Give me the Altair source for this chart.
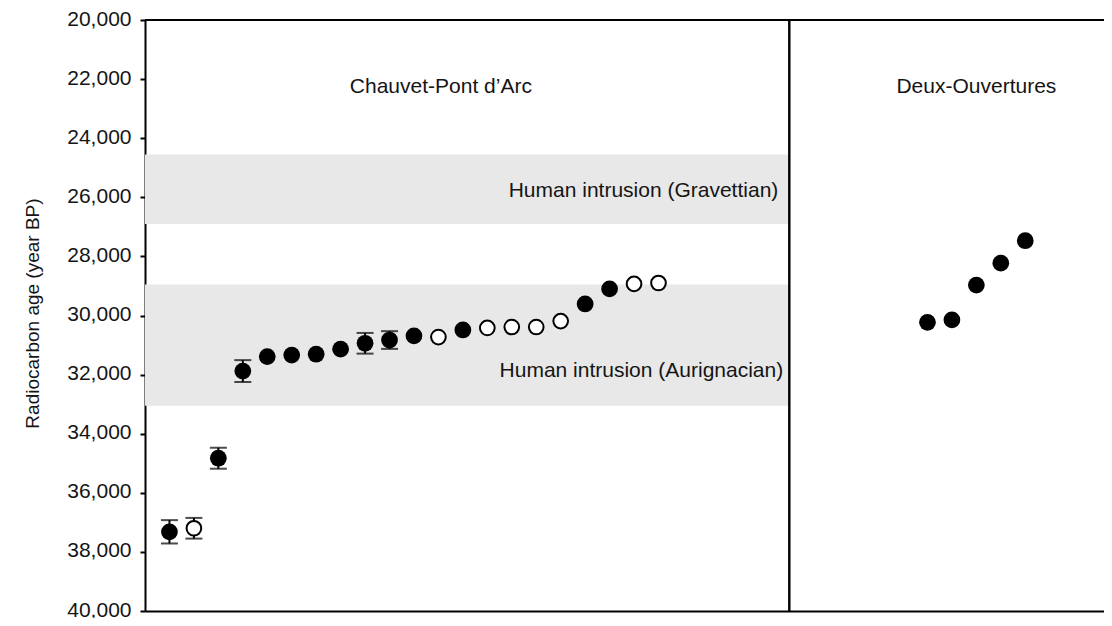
import altair as alt
import pandas as pd

# ---- data ----
chauvet_idx = list(range(1, 22))
chauvet_age = [37320, 37200, 34830, 31880, 31390, 31340, 31310, 31140, 30940, 30830,
               30690, 30730, 30490, 30420, 30390, 30390, 30190, 29610, 29100, 28930, 28900]
chauvet_open = [False, True, False, False, False, False, False, False, False, False,
                False, True, False, True, True, True, True, False, False, True, True]
chauvet_err = [395, 350, 355, 370, 0, 0, 0, 0, 350, 300,
               0, 0, 0, 0, 0, 0, 0, 0, 0, 0, 0]

deux_idx = [32, 33, 34, 35, 36]
deux_age = [30230, 30150, 28970, 28230, 27470]

site_names = ["Chauvet-Pont d’Arc", "Deux-Ouvertures"]
site_label_x = [12.1, 34.0]
site_label_age = [22270, 22270]

band_names = ["Human intrusion (Gravettian)", "Human intrusion (Aurignacian)"]
band_start = [24550, 28950]
band_end = [26900, 33050]
band_label_x = [25.9, 26.1]
band_label_age = [25800, 31880]

divider = 26.35
x_max = 39.22
y_ticks = list(range(20000, 40001, 2000))

# ---- tables ----
pts = pd.DataFrame({
    "idx": chauvet_idx + deux_idx,
    "age": chauvet_age + deux_age,
    "open": chauvet_open + [False] * len(deux_idx),
    "err": chauvet_err + [0] * len(deux_idx),
})
pts["lo"] = pts["age"] - pts["err"]
pts["hi"] = pts["age"] + pts["err"]
errs = pts[pts["err"] > 0]

bands = pd.DataFrame({"name": band_names, "start": band_start, "end": band_end,
                      "lx": band_label_x, "ly": band_label_age,
                      "x0": [0, 0], "x1": [divider, divider]})
sites = pd.DataFrame({"name": site_names, "x": site_label_x, "y": site_label_age})

FONT = "Liberation Sans"
TXT = "#151515"
xs = alt.Scale(domain=[0, x_max], nice=False, zero=False)
ys = alt.Scale(domain=[20000, 40000], reverse=True, nice=False, zero=False)

y_axis = alt.Axis(values=y_ticks, format=",d", title="Radiocarbon age (year BP)",
                  grid=False, domainColor="black", domainWidth=2, tickColor="black",
                  tickWidth=2, tickSize=5, labelPadding=9, labelFontSize=21,
                  labelOffset=-1,
                  labelColor=TXT, labelFont=FONT, titleFont=FONT,
                  titleFontSize=19, titleFontWeight="normal", titleColor=TXT,
                  titleX=-113, titleY=293, titleAngle=-90, titleAlign="center",
                  titleBaseline="middle")
x_axis = alt.Axis(labels=False, ticks=False, title=None, grid=False,
                  domainColor="black", domainWidth=2)

band_rect = alt.Chart(bands).mark_rect(color="#e8e8e8").encode(
    x=alt.X("x0:Q", scale=xs, axis=x_axis),
    x2="x1:Q",
    y=alt.Y("start:Q", scale=ys, axis=y_axis),
    y2="end:Q",
)
band_text = alt.Chart(bands).mark_text(align="right", baseline="middle", fontSize=21,
                                       font=FONT, color=TXT).encode(
    x=alt.X("lx:Q", scale=xs), y=alt.Y("ly:Q", scale=ys), text="name:N")

top_line = alt.Chart(bands).mark_rule(color="black", strokeWidth=2).encode(
    y=alt.datum(20000))
div_line = alt.Chart(bands).mark_rule(color="black", strokeWidth=2).encode(
    x=alt.datum(divider))

err_rule = alt.Chart(errs).mark_rule(color="black", strokeWidth=2).encode(
    x=alt.X("idx:Q", scale=xs), y=alt.Y("lo:Q", scale=ys), y2="hi:Q")
cap_lo = alt.Chart(errs).mark_tick(orient="horizontal", color="black", size=17,
                                   thickness=2).encode(
    x=alt.X("idx:Q", scale=xs), y=alt.Y("lo:Q", scale=ys))
cap_hi = alt.Chart(errs).mark_tick(orient="horizontal", color="black", size=17,
                                   thickness=2).encode(
    x=alt.X("idx:Q", scale=xs), y=alt.Y("hi:Q", scale=ys))

filled = alt.Chart(pts[~pts["open"]]).mark_point(shape="circle", filled=True,
                                                 color="black", opacity=1,
                                                 size=280).encode(
    x=alt.X("idx:Q", scale=xs), y=alt.Y("age:Q", scale=ys))
hollow = alt.Chart(pts[pts["open"]]).mark_point(shape="circle", fill="white",
                                                fillOpacity=1, stroke="black",
                                                strokeWidth=2, opacity=1,
                                                size=215).encode(
    x=alt.X("idx:Q", scale=xs), y=alt.Y("age:Q", scale=ys))

site_text = alt.Chart(sites).mark_text(align="center", baseline="middle", fontSize=21,
                                       font=FONT, color=TXT).encode(
    x=alt.X("x:Q", scale=xs), y=alt.Y("y:Q", scale=ys), text="name:N")

chart = alt.layer(band_rect, band_text, top_line, div_line, err_rule, cap_lo, cap_hi,
                  filled, hollow, site_text).properties(
    width=959, height=591, autosize="none",
    padding={"left": 137, "top": 12, "right": 0, "bottom": 7},
).configure_view(stroke=None).configure(background="white")

chart.save("out.html", embed_options={"renderer": "svg", "actions": False})
